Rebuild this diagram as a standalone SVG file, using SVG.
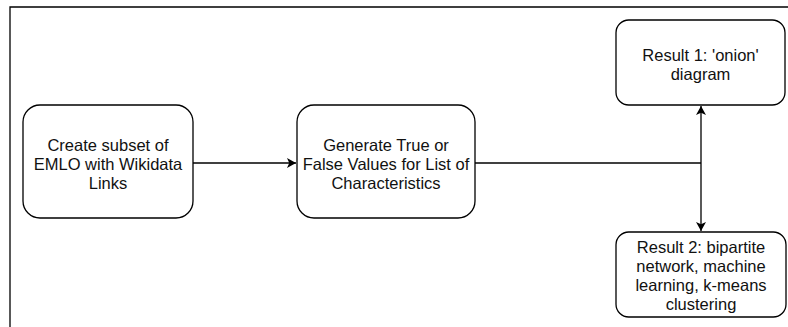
<svg xmlns="http://www.w3.org/2000/svg" width="788" height="327" viewBox="0 0 788 327">
<defs>
<style>
.box{fill:#fff;stroke:#000;stroke-width:1.3}
.t{font-family:"Liberation Sans",Arial,Helvetica,sans-serif;font-size:16.5px;fill:#111;text-anchor:middle}
.c{fill:none;stroke:#000;stroke-width:1.3}
</style>
<marker id="ah" viewBox="0 0 10 10" refX="10" refY="5" markerWidth="9" markerHeight="10" markerUnits="userSpaceOnUse" orient="auto-start-reverse" preserveAspectRatio="none">
<path d="M0,0 L10,5 L0,10 L2.5,5 Z" fill="#000"/>
</marker>
</defs>
<rect width="788" height="327" fill="#fff"/>
<path d="M10,327 V7 H788" fill="none" stroke="#000" stroke-width="1.3"/>
<g id="connectors">
<path class="c" d="M193,163 H296" marker-end="url(#ah)"/>
<path class="c" d="M475,163 H701"/>
<path class="c" d="M701,106 V231" marker-start="url(#ah)" marker-end="url(#ah)"/>
</g>
<g id="n1">
<rect class="box" x="23" y="105" width="170" height="113" rx="17"/>
<text class="t" x="108" y="151">Create subset of</text>
<text class="t" x="108" y="170">EMLO with Wikidata</text>
<text class="t" x="108" y="189">Links</text>
</g>
<g id="n2">
<rect class="box" x="297" y="105" width="178" height="113" rx="17"/>
<text class="t" x="386" y="151">Generate True or</text>
<text class="t" x="386" y="170">False Values for List of</text>
<text class="t" x="386" y="189">Characteristics</text>
</g>
<g id="n3">
<rect class="box" x="616" y="20" width="169" height="85" rx="12.75"/>
<text class="t" x="700.5" y="61">Result 1: 'onion'</text>
<text class="t" x="700.5" y="80">diagram</text>
</g>
<g id="n4">
<rect class="box" x="616" y="232" width="170" height="85" rx="12.75"/>
<text class="t" x="701" y="253">Result 2: bipartite</text>
<text class="t" x="701" y="272">network, machine</text>
<text class="t" x="701" y="291">learning, k-means</text>
<text class="t" x="701" y="310">clustering</text>
</g>
</svg>
